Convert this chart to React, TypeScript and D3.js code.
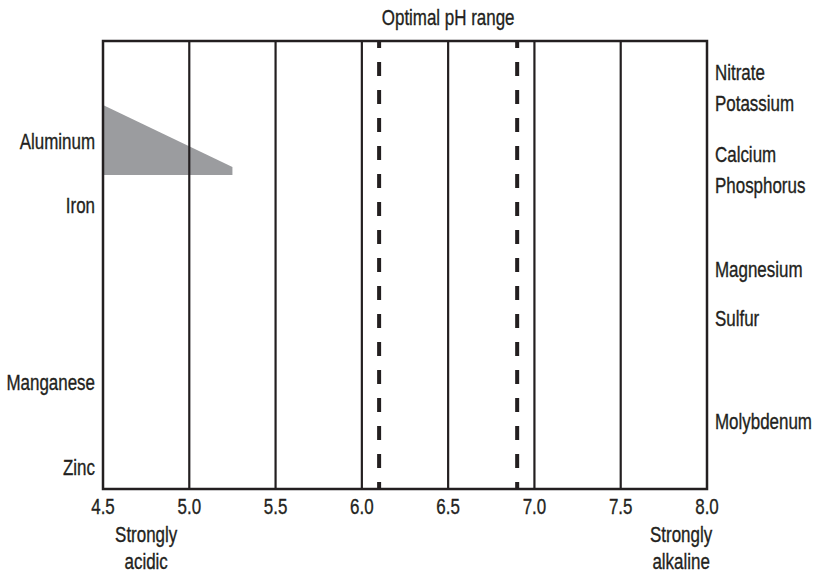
import React from "react";
import * as d3 from "d3";

const phTicks = [4.5, 5.0, 5.5, 6.0, 6.5, 7.0, 7.5, 8.0];
const optimalRange = [6.1, 6.9];
const leftNutrients = ["Aluminum", "Iron", "Manganese", "Zinc"];
const leftPositions = [22.3, 36.6, 76.1, 95.0];
const rightNutrients = ["Nitrate", "Potassium", "Calcium", "Phosphorus", "Magnesium", "Sulfur", "Molybdenum"];
const rightPositions = [6.9, 13.8, 25.2, 32.1, 51.0, 61.8, 84.8];
const aluminumShape: [number, number][] = [[4.5, 14.3], [5.25, 28.1], [5.25, 29.9], [4.5, 29.9]];
const endLabels = [
  { ph: 4.75, lines: ["Strongly", "acidic"] },
  { ph: 7.85, lines: ["Strongly", "alkaline"] },
];
const title = "Optimal pH range";

const W = 813, H = 574;
const M = { left: 103, right: 106, top: 41, bottom: 85 };
const FONT = "'Liberation Sans', Arial, sans-serif";
const INK = "#231f20";
const SX = 0.77;

function Label({ x, y, anchor, children, dy }: { x: number; y: number; anchor: "start" | "middle" | "end"; children: string; dy?: string }) {
  return (
    <g transform={`translate(${x},${y}) scale(${SX},1)`}>
      <text x={0} y={0} dy={dy} textAnchor={anchor} stroke={INK} strokeWidth={0.35}>{children}</text>
    </g>
  );
}

export default function App() {
  const x = d3.scaleLinear().domain([4.5, 8.0]).range([M.left, W - M.right]);
  const y = d3.scaleLinear().domain([0, 100]).range([M.top, H - M.bottom]);
  const area = d3.line<[number, number]>().x(d => x(d[0])).y(d => y(d[1]));
  const x0 = x(4.5), x1 = x(8.0), y0 = y(0), y1 = y(100);
  return (
    <svg width={W} height={H} style={{ position: "absolute", left: 0, top: 0, background: "#fff" }} fontFamily={FONT} fontSize={22} fill={INK}>
      <path d={area(aluminumShape) + "Z"} fill="#9b9c9f" />
      {phTicks.slice(1, -1).map(t => (
        <line key={t} x1={x(t)} x2={x(t)} y1={y0} y2={y1} stroke={INK} strokeWidth={2.2} />
      ))}
      {optimalRange.map(t => (
        <line key={t} x1={x(t)} x2={x(t)} y1={y0} y2={y1} stroke={INK} strokeWidth={4} strokeDasharray="14 14" strokeDashoffset={7} />
      ))}
      <rect x={x0} y={y0} width={x1 - x0} height={y1 - y0} fill="none" stroke={INK} strokeWidth={2.5} />
      {phTicks.map(t => (
        <Label key={t} x={x(t)} y={y1 + 25} anchor="middle">{t.toFixed(1)}</Label>
      ))}
      {endLabels.map(e => e.lines.map((l, i) => (
        <Label key={l + i + e.ph} x={x(e.ph)} y={y1 + 53 + i * 27} anchor="middle">{l}</Label>
      )))}
      {leftNutrients.map((n, i) => (
        <Label key={n} x={x0 - 8} y={y(leftPositions[i])} dy="0.36em" anchor="end">{n}</Label>
      ))}
      {rightNutrients.map((n, i) => (
        <Label key={n} x={x1 + 8} y={y(rightPositions[i])} dy="0.36em" anchor="start">{n}</Label>
      ))}
      <Label x={x(6.5)} y={y0 - 16} anchor="middle">{title}</Label>
    </svg>
  );
}
